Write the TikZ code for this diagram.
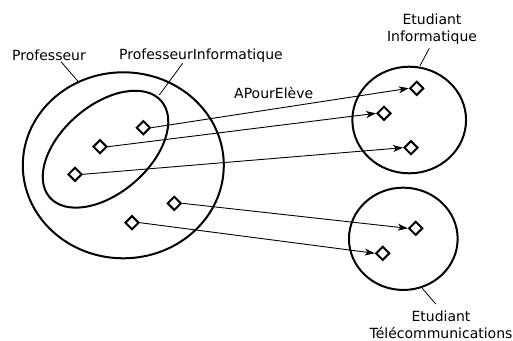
\documentclass[tikz,border=0pt]{standalone}
\usepackage{fontspec}
\setmainfont{DejaVu Sans}
\usetikzlibrary{shapes.geometric,arrows.meta}
\begin{document}
\begin{tikzpicture}[x=1pt,y=-1pt,
  setshape/.style={draw, ellipse, line width=2pt, inner sep=0pt},
  elem/.style={draw, diamond, line width=2pt, inner sep=0pt,
    minimum width=14pt, minimum height=14pt},
  link/.style={line width=0.9pt, -{Stealth[length=10pt,width=7pt,inset=3pt]}},
  leader/.style={line width=0.8pt},
  lbl/.style={inner sep=0pt, font=\fontsize{14}{16.8}\selectfont}]
\useasboundingbox (0,0) rectangle (513,340);

% sets
\node[setshape, minimum width=201pt, minimum height=186pt] (prof) at (123.3,165.3) {};
\node[setshape, minimum width=147.4pt, minimum height=87.8pt, rotate=40.7] (pinfo) at (105.5,149.2) {};
\node[setshape, minimum width=113.7pt, minimum height=106.6pt] (einfo) at (409.2,120) {};
\node[setshape, minimum width=108.7pt, minimum height=102.3pt] (etele) at (403.3,238.8) {};

% elements of the sets
\node[elem] (p1) at (143.3,127.7) {};
\node[elem] (p2) at (100,146.7) {};
\node[elem] (p3) at (75,174.3) {};
\node[elem] (p4) at (174.3,203.3) {};
\node[elem] (p5) at (132,222.7) {};
\node[elem] (s1) at (416.7,88.3) {};
\node[elem] (s2) at (384,113.3) {};
\node[elem] (s3) at (411,147.7) {};
\node[elem] (s4) at (415.7,228.3) {};
\node[elem] (s5) at (382.7,253.3) {};

% APourEleve links
\draw[link] (p1.east) -- (s1.west);
\draw[link] (p2.east) -- (s2.west);
\draw[link] (p3.east) -- (s3.west);
\draw[link] (p4.east) -- (s4.west);
\draw[link] (p5.east) -- (s5.west);

% labels
\node[lbl, anchor=base west] (lprof) at (12,60) {Professeur};
\node[lbl, anchor=base west] (lpinfo) at (119,59) {ProfesseurInformatique};
\node[lbl, anchor=base west] (lrel) at (234,98.5) {APourElève};
\node[lbl, anchor=north, align=center] (leinfo) at (432,13.4) {Etudiant\\Informatique};
\node[lbl, anchor=north, align=center] (letele) at (441,310.4) {Etudiant\\Télécommunications};

% leader lines
\coordinate (cprof) at (61,61.7);
\coordinate (cprofset) at (78.3,81.7);
\coordinate (cpinfo) at (182.7,63.3);
\coordinate (cpinfoset) at (159.3,95);
\coordinate (ceinfo) at (429.3,48.3);
\coordinate (ceinfoset) at (420,65.7);
\coordinate (cetele) at (435.7,304);
\coordinate (ceteleset) at (422.3,288.3);
\draw[leader] (cprof) -- (cprofset);
\draw[leader] (cpinfo) -- (cpinfoset);
\draw[leader] (ceinfo) -- (ceinfoset);
\draw[leader] (cetele) -- (ceteleset);
\end{tikzpicture}
\end{document}
